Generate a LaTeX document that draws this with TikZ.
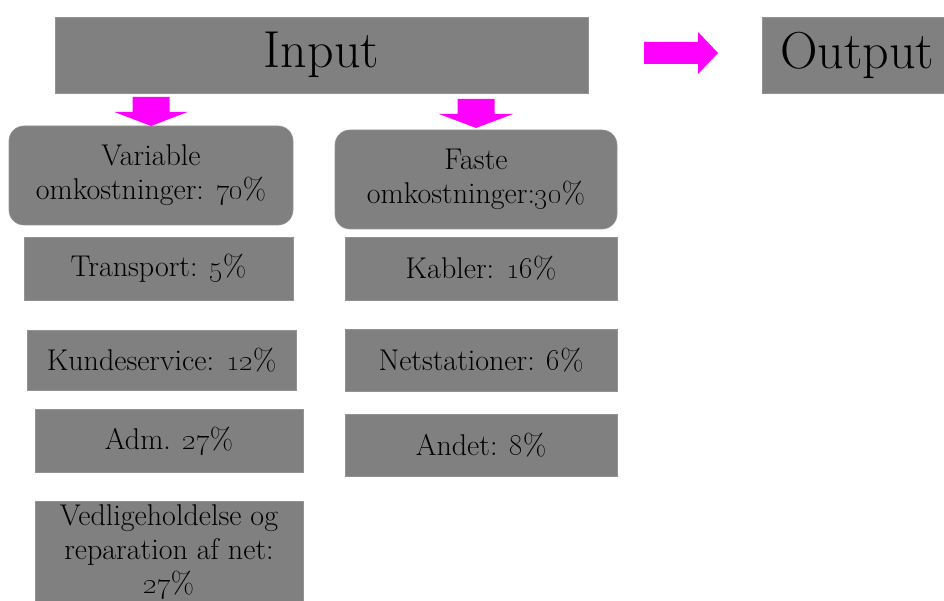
\documentclass[tikz,border=0pt]{standalone}
\usetikzlibrary{positioning}
\definecolor{boxgray}{RGB}{128,128,128}
\definecolor{arrowpink}{RGB}{255,0,255}
\newcommand{\osn}[1]{\oldstylenums{#1}}
\begin{document}
\begin{tikzpicture}[x=1pt,y=-1pt,
  box/.style={fill=boxgray, draw=boxgray!85!white, line width=0.6pt, inner sep=0pt,
    align=center, text=black, font=\fontsize{30}{34}\selectfont},
  bigbox/.style={box, font=\fontsize{52}{60}\selectfont},
  roundbox/.style={box, rounded corners=15pt},
  blockarrow/.style={fill=arrowpink}]
\useasboundingbox (0,0) rectangle (944,601);
\clip (0,0) rectangle (944,601);

% top row
\node[bigbox, minimum width=533pt, minimum height=76pt] (input) at (321.5,55) {Input};
\node[bigbox, minimum width=190pt, minimum height=76pt] (output) at (857,55) {Output};

% first level: variable and fixed costs
\node[roundbox, minimum width=284pt, minimum height=99pt] (variable) at (151,175.5)
  {Variable\\omkostninger: \osn{70}\%};
\node[roundbox, minimum width=282pt, minimum height=99pt] (faste) at (476,179.5)
  {Faste\\omkostninger:\osn{30}\%};

% variable cost items
\node[box, minimum width=269pt, minimum height=63pt] (transport) at (158.5,268.5)
  {Transport: \osn{5}\%};
\node[box, minimum width=269pt, minimum height=60pt] (kunde) at (161.5,360.5)
  {Kundeservice: \osn{12}\%};
\node[box, minimum width=268pt, minimum height=63pt] (adm) at (169,441)
  {Adm. \osn{27}\%};
\node[box, minimum width=268pt, minimum height=102pt] (vedlig) at (169,552)
  {Vedligeholdelse og\\reparation af net:\\\osn{27}\%};

% fixed cost items
\node[box, minimum width=272pt, minimum height=63pt] (kabler) at (481,268.5)
  {Kabler: \osn{16}\%};
\node[box, minimum width=272pt, minimum height=62pt] (net) at (481,360)
  {Netstationer: \osn{6}\%};
\node[box, minimum width=272pt, minimum height=62pt] (andet) at (481,445.5)
  {Andet: \osn{8}\%};

% block arrows
\coordinate (tipvar) at (151,126);
\coordinate (tipfast) at (476,128);
\coordinate (tipout) at (718,53);
\fill[blockarrow] (tipvar) -- ++(-36.5,-14) -- ++(18,0) -- ++(0,-15) -- ++(37,0)
  -- ++(0,15) -- ++(18,0) -- cycle;
\fill[blockarrow] (tipfast) -- ++(-37,-14) -- ++(18.5,0) -- ++(0,-15) -- ++(37,0)
  -- ++(0,15) -- ++(18.5,0) -- cycle;
\fill[blockarrow] (tipout) -- ++(-20,-21) -- ++(0,10) -- ++(-54,0) -- ++(0,22)
  -- ++(54,0) -- ++(0,10) -- cycle;
\end{tikzpicture}
\end{document}
